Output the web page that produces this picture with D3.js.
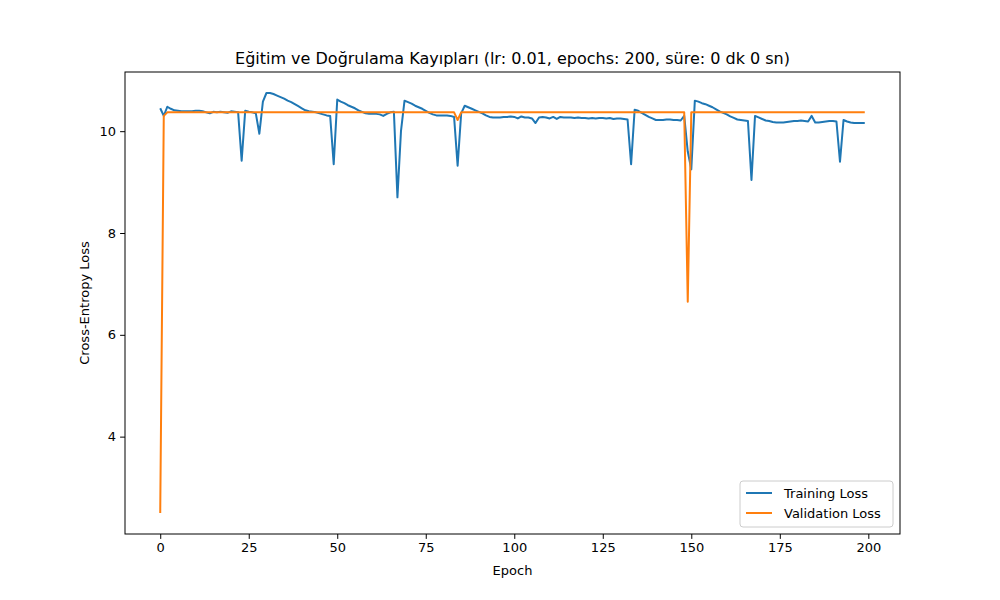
<!DOCTYPE html>
<html>
<head>
<meta charset="utf-8">
<script src="https://cdn.jsdelivr.net/npm/d3@7"></script>
<style>
  body { margin: 0; background: #fff; }
  text { font-family: "DejaVu Sans", sans-serif; }
</style>
</head>
<body>
<div id="chart"></div>
<script>
const titleText = 'Eğitim ve Doğrulama Kayıpları (lr: 0.01, epochs: 200, süre: 0 dk 0 sn)';
const xTicks = [0, 25, 50, 75, 100, 125, 150, 175, 200];
const yTicks = [4, 6, 8, 10];

const trainLoss = [
  10.45,10.30,10.48,10.44,10.41,10.40,10.39,10.39,10.39,10.39,
  10.40,10.40,10.39,10.37,10.35,10.38,10.37,10.38,10.37,10.36,
  10.39,10.38,10.37,9.42,10.40,10.38,10.37,10.35,9.95,10.58,
  10.75,10.75,10.73,10.70,10.67,10.64,10.60,10.57,10.53,10.49,
  10.45,10.41,10.39,10.38,10.37,10.35,10.33,10.31,10.30,9.35,
  10.62,10.58,10.55,10.51,10.48,10.45,10.41,10.38,10.35,10.34,
  10.34,10.34,10.33,10.30,10.34,10.37,10.38,8.70,10.00,10.60,
  10.57,10.54,10.50,10.47,10.44,10.40,10.36,10.33,10.31,10.31,
  10.31,10.31,10.30,10.28,9.32,10.35,10.50,10.47,10.44,10.41,
  10.38,10.35,10.31,10.28,10.27,10.27,10.27,10.28,10.28,10.29,
  10.28,10.25,10.29,10.27,10.27,10.25,10.16,10.27,10.28,10.27,
  10.25,10.28,10.24,10.28,10.27,10.27,10.27,10.26,10.27,10.26,
  10.26,10.25,10.26,10.25,10.26,10.26,10.25,10.26,10.24,10.25,
  10.25,10.24,10.23,9.35,10.42,10.40,10.36,10.32,10.28,10.25,
  10.22,10.22,10.22,10.23,10.23,10.22,10.22,10.21,10.30,9.60,
  9.25,10.60,10.58,10.55,10.53,10.50,10.47,10.43,10.39,10.36,
  10.33,10.29,10.26,10.23,10.22,10.21,10.20,9.04,10.30,10.27,
  10.24,10.21,10.20,10.18,10.17,10.17,10.17,10.18,10.19,10.20,
  10.20,10.21,10.20,10.19,10.30,10.17,10.17,10.18,10.19,10.20,
  10.20,10.19,9.40,10.22,10.19,10.17,10.16,10.16,10.16,10.16
];

const valLoss = [
  2.50,10.30,10.37,10.37,10.37,10.37,10.37,10.37,10.37,10.37,
  10.37,10.37,10.37,10.37,10.37,10.37,10.37,10.37,10.37,10.37,
  10.37,10.37,10.37,10.37,10.37,10.37,10.37,10.37,10.37,10.37,
  10.37,10.37,10.37,10.37,10.37,10.37,10.37,10.37,10.37,10.37,
  10.37,10.37,10.37,10.37,10.37,10.37,10.37,10.37,10.37,10.37,
  10.37,10.37,10.37,10.37,10.37,10.37,10.37,10.37,10.37,10.37,
  10.37,10.37,10.37,10.37,10.37,10.37,10.37,10.37,10.37,10.37,
  10.37,10.37,10.37,10.37,10.37,10.37,10.37,10.37,10.37,10.37,
  10.37,10.37,10.37,10.37,10.22,10.37,10.37,10.37,10.37,10.37,
  10.37,10.37,10.37,10.37,10.37,10.37,10.37,10.37,10.37,10.37,
  10.37,10.37,10.37,10.37,10.37,10.37,10.37,10.37,10.37,10.37,
  10.37,10.37,10.37,10.37,10.37,10.37,10.37,10.37,10.37,10.37,
  10.37,10.37,10.37,10.37,10.37,10.37,10.37,10.37,10.37,10.37,
  10.37,10.37,10.37,10.37,10.37,10.37,10.37,10.37,10.37,10.37,
  10.37,10.37,10.37,10.37,10.37,10.37,10.37,10.37,10.37,6.65,
  10.37,10.37,10.37,10.37,10.37,10.37,10.37,10.37,10.37,10.37,
  10.37,10.37,10.37,10.37,10.37,10.37,10.37,10.37,10.37,10.37,
  10.37,10.37,10.37,10.37,10.37,10.37,10.37,10.37,10.37,10.37,
  10.37,10.37,10.37,10.37,10.37,10.37,10.37,10.37,10.37,10.37,
  10.37,10.37,10.37,10.37,10.37,10.37,10.37,10.37,10.37,10.37
];

const seriesNames = ['Training Loss', 'Validation Loss'];
const seriesColors = ['#1f77b4', '#ff7f0e'];

const width = 1000;
const height = 600;
const margin = { top: 72, right: 100, bottom: 66, left: 125 };

const x = d3.scaleLinear([-9.95, 208.95], [margin.left, width - margin.right]);
const y = d3.scaleLinear([2.0875, 11.1625], [height - margin.bottom, margin.top]);

const svg = d3.select('#chart')
  .append('svg')
  .attr('width', width)
  .attr('height', height);

const line = d3.line()
  .x((d, i) => x(i))
  .y((d) => y(d));

const plot = svg.append('g');
[trainLoss, valLoss].forEach((s, k) => {
  plot.append('path')
    .attr('d', line(s))
    .attr('fill', 'none')
    .attr('stroke', seriesColors[k])
    .attr('stroke-width', 2)
    .attr('stroke-linejoin', 'round');
});

const xAxis = svg.append('g')
  .attr('transform', `translate(0,${height - margin.bottom})`)
  .call(d3.axisBottom(x).tickValues(xTicks).tickSize(4.9).tickPadding(4));
const yAxis = svg.append('g')
  .attr('transform', `translate(${margin.left},0)`)
  .call(d3.axisLeft(y).tickValues(yTicks).tickSize(4.9).tickPadding(4));
[xAxis, yAxis].forEach((g) => {
  g.select('.domain').remove();
  g.selectAll('text').style('font-size', '13px').attr('fill', '#000');
  g.selectAll('line').attr('stroke', '#000');
});

svg.append('rect')
  .attr('x', margin.left)
  .attr('y', margin.top)
  .attr('width', width - margin.left - margin.right)
  .attr('height', height - margin.top - margin.bottom)
  .attr('fill', 'none')
  .attr('stroke', '#000')
  .attr('stroke-width', 1);

svg.append('text')
  .attr('x', (margin.left + width - margin.right) / 2)
  .attr('y', 64)
  .attr('text-anchor', 'middle')
  .style('font-size', '16px')
  .text(titleText);

svg.append('text')
  .attr('x', (margin.left + width - margin.right) / 2)
  .attr('y', 575)
  .attr('text-anchor', 'middle')
  .style('font-size', '13px')
  .text('Epoch');

svg.append('text')
  .attr('transform', `translate(89,${(margin.top + height - margin.bottom) / 2}) rotate(-90)`)
  .attr('text-anchor', 'middle')
  .style('font-size', '13px')
  .text('Cross-Entropy Loss');

const legend = svg.append('g').attr('transform', 'translate(740,481)');
legend.append('rect')
  .attr('width', 153)
  .attr('height', 46)
  .attr('rx', 3)
  .attr('fill', '#fff')
  .attr('fill-opacity', 0.8)
  .attr('stroke', '#ccc');
seriesNames.forEach((name, k) => {
  const gy = 12 + k * 20;
  legend.append('line')
    .attr('x1', 6).attr('x2', 32)
    .attr('y1', gy).attr('y2', gy)
    .attr('stroke', seriesColors[k])
    .attr('stroke-width', 2);
  legend.append('text')
    .attr('x', 44)
    .attr('y', gy + 4.5)
    .style('font-size', '13px')
    .text(name);
});
</script>
</body>
</html>
